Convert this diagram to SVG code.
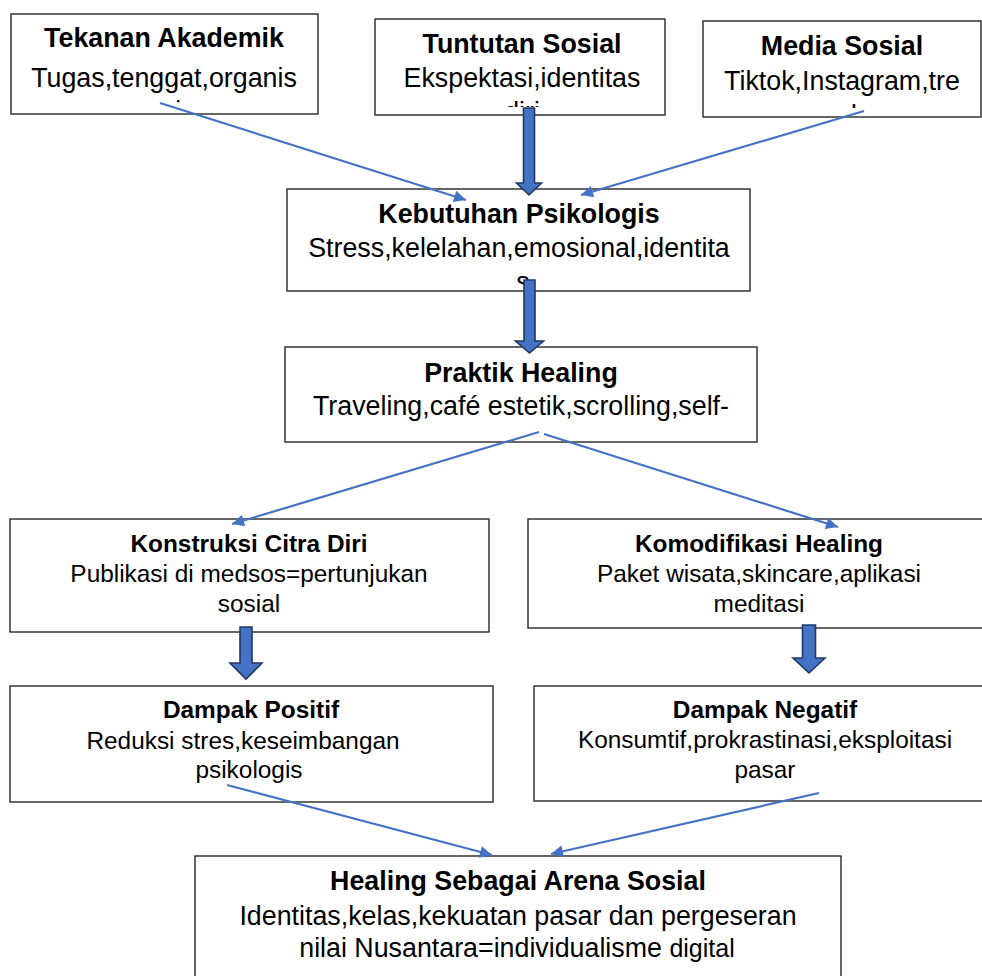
<svg xmlns="http://www.w3.org/2000/svg" width="982" height="976" viewBox="0 0 982 976">
<style>
.box{fill:#fff;stroke:#262626;stroke-width:1.4}
.t{font-family:"Liberation Sans",Arial,sans-serif;font-size:26.8px;fill:#000;text-anchor:middle}
.tb{font-weight:bold}
.s{font-size:24.4px}
.ln{stroke:#4472C4;stroke-width:2.2;fill:none;marker-end:url(#ah)}
.blk{fill:#4472C4;stroke:#203864;stroke-width:1.6;stroke-linejoin:miter}
</style>
<defs>
<marker id="ah" viewBox="0 0 10 10" refX="10" refY="5" markerWidth="15" markerHeight="12" markerUnits="userSpaceOnUse" orient="auto">
<path d="M0,0 L10,5 L0,10 z" fill="#4472C4"/>
</marker>
<clipPath id="c1"><rect x="11" y="14" width="307" height="91"/></clipPath>
<clipPath id="c2"><rect x="375" y="19" width="290" height="88"/></clipPath>
<clipPath id="c3"><rect x="703" y="21" width="278" height="87"/></clipPath>
<clipPath id="c4"><rect x="287" y="189" width="463" height="97"/></clipPath>
</defs>
<rect width="982" height="976" fill="#fff"/>

<g id="tekanan-akademik">
<rect class="box" x="11" y="14" width="307" height="100"/>
<text class="t tb" x="164" y="47">Tekanan Akademik</text>
<text class="t" x="164" y="87">Tugas,tenggat,organis</text>
<text class="t" x="164" y="120" clip-path="url(#c1)">asi</text>
</g>

<g id="tuntutan-sosial">
<rect class="box" x="375" y="19" width="290" height="96"/>
<text class="t tb" x="522" y="53">Tuntutan Sosial</text>
<text class="t" x="522" y="87">Ekspektasi,identitas</text>
<text class="t" x="522" y="121" clip-path="url(#c2)">diri</text>
</g>

<g id="media-sosial">
<rect class="box" x="703" y="21" width="278" height="96"/>
<text class="t tb" x="842" y="55">Media Sosial</text>
<text class="t" x="842" y="90">Tiktok,Instagram,tre</text>
<text class="t" x="842" y="124" clip-path="url(#c3)">nd</text>
</g>

<g id="kebutuhan-psikologis">
<rect class="box" x="287" y="189" width="463" height="102"/>
<text class="t tb" x="519" y="223">Kebutuhan Psikologis</text>
<text class="t" x="519" y="257">Stress,kelelahan,emosional,identita</text>
<text class="t" x="523" y="291" clip-path="url(#c4)">s</text>
</g>

<g id="praktik-healing">
<rect class="box" x="285" y="347" width="472" height="95"/>
<text class="t tb" x="521" y="382">Praktik Healing</text>
<text class="t" x="521" y="415">Traveling,café estetik,scrolling,self-</text>
</g>

<g id="konstruksi-citra-diri">
<rect class="box" x="10" y="519" width="479" height="113"/>
<text class="t s tb" x="249" y="552">Konstruksi Citra Diri</text>
<text class="t s" x="249" y="582">Publikasi di medsos=pertunjukan</text>
<text class="t s" x="249" y="612">sosial</text>
</g>

<g id="komodifikasi-healing">
<rect class="box" x="528" y="519" width="462" height="109"/>
<text class="t s tb" x="759" y="552">Komodifikasi Healing</text>
<text class="t s" x="759" y="582">Paket wisata,skincare,aplikasi</text>
<text class="t s" x="759" y="612">meditasi</text>
</g>

<g id="dampak-positif">
<rect class="box" x="10" y="686" width="483" height="116"/>
<text class="t s tb" x="251" y="718">Dampak Positif</text>
<text class="t s" x="243" y="749">Reduksi stres,keseimbangan</text>
<text class="t s" x="249" y="778">psikologis</text>
</g>

<g id="dampak-negatif">
<rect class="box" x="534" y="686" width="462" height="115"/>
<text class="t s tb" x="765" y="718">Dampak Negatif</text>
<text class="t s" x="765" y="748">Konsumtif,prokrastinasi,eksploitasi</text>
<text class="t s" x="765" y="778">pasar</text>
</g>

<g id="healing-arena-sosial">
<rect class="box" x="195" y="856" width="646" height="130"/>
<text class="t tb" x="518" y="890">Healing Sebagai Arena Sosial</text>
<text class="t" x="518" y="925">Identitas,kelas,kekuatan pasar dan pergeseran</text>
<text class="t" x="517" y="957">nilai Nusantara=individualisme <tspan style="font-size:25px">digital</tspan></text>
</g>

<g id="connectors">
<line class="ln" x1="160" y1="103" x2="466" y2="200"/>
<line class="ln" x1="864" y1="111" x2="581" y2="195"/>
<path class="blk" d="M523.5,108 H534.5 V183 H541.5 L529,195 L516.5,183 H523.5 Z"/>
<path class="blk" d="M524,280 H535 V341 H543.5 L529.5,353 L515.5,341 H524 Z"/>
<line class="ln" x1="539" y1="432" x2="232" y2="524"/>
<line class="ln" x1="544" y1="434" x2="838" y2="527"/>
<path class="blk" d="M240,627 H252 V663 H262 L246,679 L230,663 H240 Z"/>
<path class="blk" d="M802.5,625 H815.5 V658 H825 L809,673 L793,658 H802.5 Z"/>
<line class="ln" x1="227" y1="785" x2="492" y2="855"/>
<line class="ln" x1="819" y1="793" x2="551" y2="854"/>
</g>
</svg>
